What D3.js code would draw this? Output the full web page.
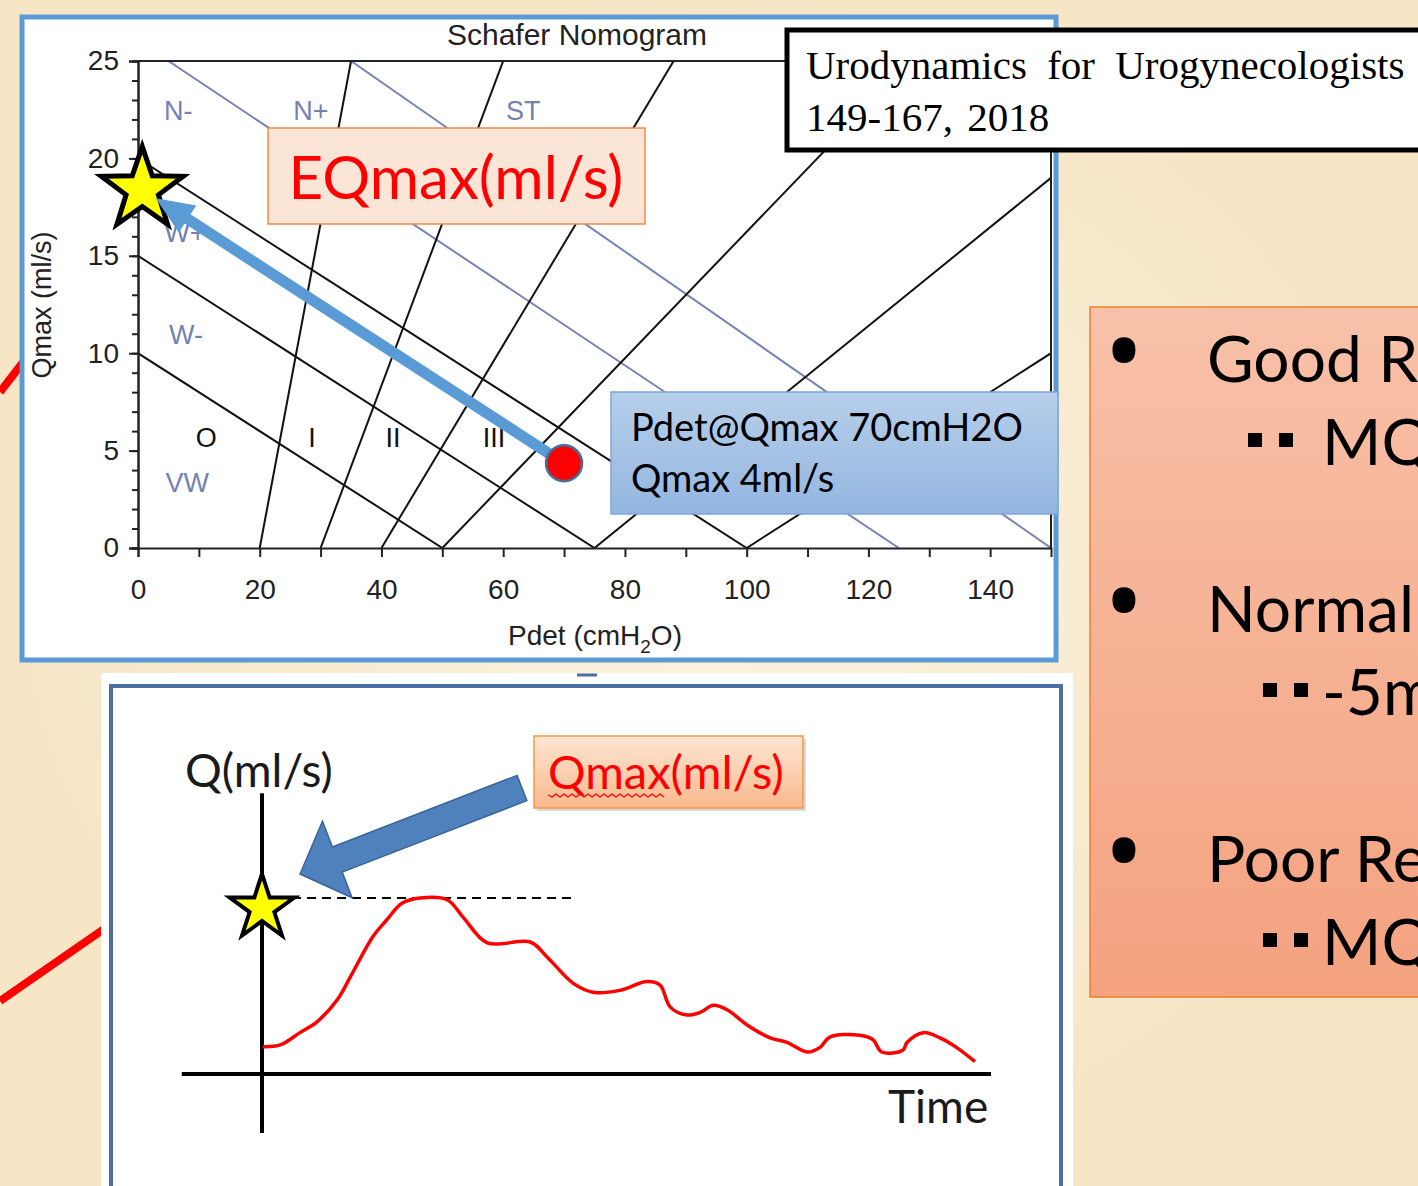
<!DOCTYPE html>
<html>
<head>
<meta charset="utf-8">
<script src="https://cdn.jsdelivr.net/npm/d3@7"></script>
<style>
  body { margin: 0; background: #f7e9cb; }
  svg { display: block; }
</style>
</head>
<body>
<svg id="chart" width="1418" height="1186"></svg>
<script>
// Schafer nomogram values (Pdet cmH2O, Qmax ml/s)
const pdetTicks = [0, 20, 40, 60, 80, 100, 120, 140];
const qmaxTicks = [0, 5, 10, 15, 20, 25];
const gradeLines = [
  [[0, 10], [50, 0]], [[0, 15], [75, 0]], [[0, 20], [100, 0]],
  [[20, 0], [35, 25]], [[30, 0], [60, 25]], [[40, 0], [88, 25]],
  [[50, 0], [127, 25]], [[75, 0], [150, 19]], [[100, 0], [150, 10]]
];
const strengthLines = [[[5, 25], [125, 0]], [[35, 25], [150, 0]]];
const gradeNames = ["O", "I", "II", "III"];
const gradePdet = [11.2, 28.6, 41.9, 58.5];
const gradeQmax = [5.7, 5.7, 5.7, 5.7];
const zoneNames = ["N-", "N+", "ST", "W+", "W-", "VW"];
const zonePdet = [6.6, 28.4, 63.3, 7.7, 7.9, 8.1];
const zoneQmax = [22.5, 22.5, 22.5, 16.2, 11.0, 3.4];
const patient = [70, 4.35];
const eqmax = [0.7, 18.4];

// uroflow curve (schematic time units, flow units)
const flowTime = [0.1, 2.5, 5.2, 7.5, 10.3, 12.1, 15.2, 17.1, 19.2, 21.7, 25.4, 27.6, 30.9, 36.8, 39.1,
  42.7, 45.4, 49.1, 52.8, 54.6, 56.0, 58.3, 60.1, 61.9, 63.8, 66.5, 69.7, 72.0, 74.8, 76.5, 77.9,
  82.0, 83.8, 85.0, 87.9, 88.5, 90.7, 93.0, 95.3, 97.8];
const flowRate = [3.1, 3.3, 4.7, 5.9, 8.4, 11.0, 15.6, 17.5, 19.4, 20.0, 19.8, 17.8, 14.9, 15.0, 13.3,
  10.3, 9.3, 9.5, 10.5, 10.1, 7.6, 6.7, 7.0, 7.8, 7.3, 5.6, 4.1, 3.6, 2.5, 3.0, 4.2,
  4.4, 3.9, 2.5, 2.7, 3.6, 4.7, 4.1, 3.0, 1.4];
const flowMax = d3.max(flowRate);

const svg = d3.select("#chart");
const defs = svg.append("defs");
const SANS = "'Liberation Sans', Arial, sans-serif";
const CAL = "Lato, 'Open Sans', sans-serif";

function grad(id, top, bottom) {
  const g = defs.append("linearGradient").attr("id", id)
    .attr("x1", 0).attr("y1", 0).attr("x2", 0).attr("y2", 1);
  g.append("stop").attr("offset", "0%").attr("stop-color", top);
  g.append("stop").attr("offset", "100%").attr("stop-color", bottom);
}
grad("pdetFill", "#b7cfea", "#93b6e0");
grad("qmaxFill", "#fde6d4", "#f9b98c");
grad("panelFill", "#f8c1a9", "#f4a27f");

const bgg = defs.append("radialGradient").attr("id", "bgGlow");
bgg.append("stop").attr("offset", "0%").attr("stop-color", "#fcf3df");
bgg.append("stop").attr("offset", "100%").attr("stop-color", "#f6e6c6");
svg.append("rect").attr("width", 1418).attr("height", 1186).attr("fill", "url(#bgGlow)");

function starPath(cx, cy, R, r) {
  const pts = d3.range(10).map(i => {
    const a = (-90 + i * 36) * Math.PI / 180, rad = i % 2 ? r : R;
    return [cx + rad * Math.cos(a), cy + rad * Math.sin(a)];
  });
  return "M" + pts.join("L") + "Z";
}

function arrowPoints(x1, y1, x2, y2, sw, hw, hl) {
  const L = Math.hypot(x2 - x1, y2 - y1), ux = (x2 - x1) / L, uy = (y2 - y1) / L;
  const nx = -uy, ny = ux, bx = x2 - ux * hl, by = y2 - uy * hl;
  return [[x1 + nx * sw / 2, y1 + ny * sw / 2], [bx + nx * sw / 2, by + ny * sw / 2],
    [bx + nx * hw / 2, by + ny * hw / 2], [x2, y2], [bx - nx * hw / 2, by - ny * hw / 2],
    [bx - nx * sw / 2, by - ny * sw / 2], [x1 - nx * sw / 2, y1 - ny * sw / 2]].join(" ");
}

// red connector lines on the left
svg.append("line").attr("x1", 0).attr("y1", 392).attr("x2", 24).attr("y2", 361)
  .attr("stroke", "#ff0000").attr("stroke-width", 8);
svg.append("line").attr("x1", 0).attr("y1", 1001).attr("x2", 104).attr("y2", 929)
  .attr("stroke", "#ff0000").attr("stroke-width", 8);

// ---------- nomogram panel ----------
svg.append("rect").attr("x", 22).attr("y", 17).attr("width", 1034).attr("height", 643)
  .attr("fill", "#fff").attr("stroke", "#5b9bd5").attr("stroke-width", 5);

const x = d3.scaleLinear().domain([0, 150]).range([138, 1051]);
const y = d3.scaleLinear().domain([0, 25]).range([548, 61]);

defs.append("clipPath").attr("id", "plotClip").append("rect")
  .attr("x", x(0)).attr("y", y(25)).attr("width", x(150) - x(0)).attr("height", y(0) - y(25));

const nomo = svg.append("g");
const plot = nomo.append("g").attr("clip-path", "url(#plotClip)");
const seg = d3.line().x(d => x(d[0])).y(d => y(d[1]));

plot.selectAll(".strength").data(strengthLines).join("path")
  .attr("d", seg).attr("fill", "none").attr("stroke", "#7783b4").attr("stroke-width", 2);
plot.selectAll(".grade").data(gradeLines).join("path")
  .attr("d", seg).attr("fill", "none").attr("stroke", "#111").attr("stroke-width", 2);

// frame lines on top and right
nomo.append("path").attr("d", seg([[0, 25], [150, 25], [150, 0]]))
  .attr("fill", "none").attr("stroke", "#222").attr("stroke-width", 2);

// axes
nomo.append("g").attr("transform", `translate(${x(0)},0)`)
  .call(d3.axisLeft(y).tickValues(qmaxTicks).tickSize(9).tickPadding(10));
nomo.append("g").attr("transform", `translate(${x(0)},0)`)
  .call(d3.axisLeft(y).tickValues(d3.range(0, 26)).tickSize(6).tickFormat(""));
nomo.append("g").attr("transform", `translate(0,${y(0)})`)
  .call(d3.axisBottom(x).tickValues(d3.range(0, 150, 10)).tickSize(9).tickPadding(22)
    .tickFormat(d => pdetTicks.includes(d) ? d : ""));
nomo.selectAll(".domain").attr("stroke", "#222").attr("stroke-width", 2);
nomo.selectAll(".tick line").attr("stroke", "#222").attr("stroke-width", 2);
nomo.selectAll(".tick text").attr("font-family", SANS).attr("font-size", 28).attr("fill", "#222");

nomo.append("text").attr("x", 577).attr("y", 45).attr("text-anchor", "middle")
  .attr("font-family", SANS).attr("font-size", 30).attr("fill", "#222").text("Schafer Nomogram");
nomo.append("text").attr("transform", "translate(51,305) rotate(-90)").attr("text-anchor", "middle")
  .attr("font-family", SANS).attr("font-size", 27).attr("fill", "#222").text("Qmax (ml/s)");
const xl = nomo.append("text").attr("x", 595).attr("y", 645).attr("text-anchor", "middle")
  .attr("font-family", SANS).attr("font-size", 28).attr("fill", "#222");
xl.append("tspan").text("Pdet (cmH");
xl.append("tspan").attr("font-size", 19).attr("dy", 8).text("2");
xl.append("tspan").attr("dy", -8).text("O)");

plot.selectAll(".zone").data(zoneNames).join("text")
  .attr("x", (d, i) => x(zonePdet[i])).attr("y", (d, i) => y(zoneQmax[i]) + 10)
  .attr("text-anchor", "middle").attr("font-family", SANS).attr("font-size", 27)
  .attr("fill", "#7481b3").text(d => d);
plot.selectAll(".gradeName").data(gradeNames).join("text")
  .attr("x", (d, i) => x(gradePdet[i])).attr("y", (d, i) => y(gradeQmax[i]) + 10)
  .attr("text-anchor", "middle").attr("font-family", SANS).attr("font-size", 27)
  .attr("fill", "#111").text(d => d);

// EQmax label box
svg.append("rect").attr("x", 268).attr("y", 128).attr("width", 377).attr("height", 96)
  .attr("fill", "#fbe5d7").attr("stroke", "#f08a4b").attr("stroke-width", 1.5);
svg.append("text").attr("x", 456).attr("y", 199).attr("text-anchor", "middle")
  .attr("font-family", CAL).attr("font-size", 60).attr("fill", "#ff0000").text("EQmax(ml/s)");

// star, arrow and patient point
const sx = x(eqmax[0]), sy = y(eqmax[1]);
svg.append("path").attr("d", starPath(sx, sy, 43, 17)).attr("fill", "#ffff00")
  .attr("stroke", "#000").attr("stroke-width", 5).attr("stroke-linejoin", "miter");
const px = x(patient[0]), py = y(patient[1]);
const L0 = Math.hypot(px - sx, py - sy);
const tipX = sx + (px - sx) / L0 * 16, tipY = sy + (py - sy) / L0 * 16;
svg.append("polygon").attr("points", arrowPoints(px, py, tipX, tipY, 11, 32, 38))
  .attr("fill", "#5b9bd5");
svg.append("circle").attr("cx", px).attr("cy", py).attr("r", 18)
  .attr("fill", "#ff0000").attr("stroke", "#41719c").attr("stroke-width", 2.5);

// Pdet label box
svg.append("rect").attr("x", 611).attr("y", 392).attr("width", 447).attr("height", 122)
  .attr("fill", "url(#pdetFill)").attr("stroke", "#7fa7d9").attr("stroke-width", 1.5);
svg.append("text").attr("x", 631).attr("y", 441).attr("font-family", CAL).attr("font-size", 38)
  .attr("fill", "#000").text("Pdet@Qmax 70cmH2O");
svg.append("text").attr("x", 631).attr("y", 492).attr("font-family", CAL).attr("font-size", 38)
  .attr("fill", "#000").text("Qmax 4ml/s");

// reference box
svg.append("rect").attr("x", 787).attr("y", 30).attr("width", 700).attr("height", 120)
  .attr("fill", "#fff").attr("stroke", "#000").attr("stroke-width", 5);
svg.append("text").attr("x", 806).attr("y", 79).attr("font-family", "'Liberation Serif', serif")
  .attr("font-size", 41).attr("fill", "#000").attr("word-spacing", 10).text("Urodynamics for Urogynecologists");
svg.append("text").attr("x", 806).attr("y", 131).attr("font-family", "'Liberation Serif', serif")
  .attr("font-size", 41).attr("fill", "#000").attr("word-spacing", 4).text("149-167, 2018");

// ---------- uroflow panel ----------
svg.append("rect").attr("x", 101).attr("y", 673).attr("width", 972).attr("height", 513).attr("fill", "#fff");
svg.append("rect").attr("x", 111).attr("y", 686).attr("width", 950).attr("height", 540)
  .attr("fill", "none").attr("stroke", "#4a6fa0").attr("stroke-width", 4);
svg.append("line").attr("x1", 577).attr("y1", 675).attr("x2", 597).attr("y2", 675)
  .attr("stroke", "#4a6fa0").attr("stroke-width", 3);

const t = d3.scaleLinear().domain([0, 100]).range([262, 991]);
const q = d3.scaleLinear().domain([0, 20]).range([1074, 898]);

svg.append("line").attr("x1", t(0)).attr("y1", q(31.9)).attr("x2", t(0)).attr("y2", q(-6.7))
  .attr("stroke", "#000").attr("stroke-width", 4);
svg.append("line").attr("x1", t(-11)).attr("y1", q(0)).attr("x2", t(100)).attr("y2", q(0))
  .attr("stroke", "#000").attr("stroke-width", 4);
svg.append("line").attr("x1", t(0)).attr("y1", q(flowMax)).attr("x2", t(43)).attr("y2", q(flowMax))
  .attr("stroke", "#000").attr("stroke-width", 2).attr("stroke-dasharray", "9,6");

svg.append("path").datum(d3.zip(flowTime, flowRate))
  .attr("d", d3.line().x(d => t(d[0])).y(d => q(d[1])).curve(d3.curveCatmullRom))
  .attr("fill", "none").attr("stroke", "#ff0000").attr("stroke-width", 3.5);

svg.append("path").attr("d", starPath(t(0), q(flowMax) + 10, 34, 13)).attr("fill", "#ffff00")
  .attr("stroke", "#000").attr("stroke-width", 4);

svg.append("text").attr("x", 185).attr("y", 787).attr("font-family", CAL).attr("font-size", 46)
  .attr("fill", "#1a1a1a").text("Q(ml/s)");
svg.append("text").attr("x", 888).attr("y", 1123).attr("font-family", CAL).attr("font-size", 46)
  .attr("fill", "#1a1a1a").text("Time");

// Qmax label box with blue arrow
svg.append("rect").attr("x", 537).attr("y", 739).attr("width", 269).attr("height", 72)
  .attr("fill", "#999").attr("opacity", 0.35);
svg.append("rect").attr("x", 534).attr("y", 736).attr("width", 269).attr("height", 72)
  .attr("fill", "url(#qmaxFill)").attr("stroke", "#f79646").attr("stroke-width", 1.5);
svg.append("text").attr("x", 548).attr("y", 789).attr("font-family", CAL).attr("font-size", 47)
  .attr("fill", "#ff0000").text("Qmax(ml/s)");
svg.append("path").attr("d", "M548,795" + d3.range(1, 30).map(i => `L${548 + i * 4},${795 + (i % 2 ? 2 : -1)}`).join(""))
  .attr("fill", "none").attr("stroke", "#ff0000").attr("stroke-width", 1.2);

svg.append("polygon").attr("points", arrowPoints(522, 788, 300, 874, 27, 82, 40))
  .attr("fill", "#4f81bd").attr("stroke", "#3a659a").attr("stroke-width", 1.5);

// ---------- right text panel ----------
svg.append("rect").attr("x", 1090).attr("y", 307).attr("width", 360).attr("height", 690)
  .attr("fill", "url(#panelFill)").attr("stroke", "#ed7d31").attr("stroke-width", 1.5);
const panel = svg.append("g").attr("font-family", CAL).attr("fill", "#000");
const heads = ["Good Re", "Normal", "Poor Re"];
const subs = ["MQ", "-5m", "MQ"];
const headY = [382, 632, 882];
const subY = [465, 715, 965];
const sqX = [[1248, 1279], [1263, 1294], [1263, 1294]];
heads.forEach((h, i) => {
  panel.append("text").attr("x", 1124).attr("y", headY[i] + 8).attr("text-anchor", "middle")
    .attr("font-family", "'Open Sans', sans-serif").attr("font-size", 110).text("•");
  panel.append("text").attr("x", 1207).attr("y", headY[i]).attr("font-size", 64).text(h);
  sqX[i].forEach(sx0 => panel.append("rect").attr("x", sx0).attr("y", subY[i] - 32)
    .attr("width", 14).attr("height", 14));
  panel.append("text").attr("x", 1322).attr("y", subY[i]).attr("font-size", 64).text(subs[i]);
});
</script>
</body>
</html>
